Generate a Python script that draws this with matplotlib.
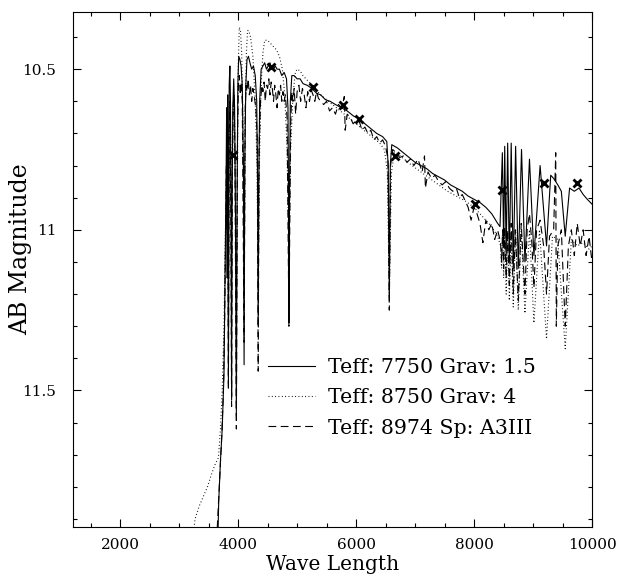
import matplotlib
matplotlib.use('Agg')
import matplotlib.pyplot as plt
from matplotlib.ticker import MultipleLocator, FuncFormatter

# Спектры: длина волны / AB звездная величина
wave_7750 = [3500, 3640, 3670, 3700, 3730, 3760, 3780, 3795, 3805, 3815, 3822, 3835, 3848, 3860,
             3870, 3880, 3889, 3898, 3910, 3925, 3940, 3955, 3970, 3982, 3995, 4010, 4030, 4050,
             4070, 4090, 4101, 4112, 4130, 4150, 4175, 4200, 4230, 4260, 4290, 4315, 4330, 4340,
             4350, 4365, 4390, 4420, 4450, 4480, 4510, 4540, 4570, 4600, 4630, 4660, 4700, 4740,
             4780, 4820, 4845, 4855, 4861, 4870, 4885, 4910, 4950, 5000, 5050, 5100, 5170, 5250,
             5330, 5400, 5480, 5560, 5650, 5750, 5850, 5950, 6050, 6150, 6250, 6350, 6450, 6520,
             6545, 6563, 6580, 6605, 6700, 6800, 6900, 7000, 7100, 7200, 7300, 7400, 7500, 7600,
             7700, 7800, 7900, 8000, 8100, 8200, 8300, 8400, 8440, 8480, 8502, 8520, 8545, 8570,
             8598, 8630, 8665, 8705, 8750, 8805, 8863, 8940, 9015, 9120, 9229, 9300, 9350, 9420,
             9480, 9546, 9620, 9700, 9780, 9850, 9920, 10000]
mag_7750 = [12.6, 12.1, 11.85, 11.72, 11.62, 11.45, 11.1, 10.85, 10.62, 11.15, 10.58, 11.48, 10.55, 10.49,
            10.6, 10.95, 11.52, 10.9, 10.62, 10.53, 10.62, 10.95, 11.58, 10.9, 10.55, 10.46, 10.47, 10.49,
            10.55, 10.8, 11.42, 10.8, 10.55, 10.47, 10.46, 10.48, 10.5, 10.49, 10.52, 10.6, 10.85, 11.3,
            10.85, 10.6, 10.5, 10.49, 10.48, 10.5, 10.49, 10.48, 10.5, 10.5, 10.49, 10.5, 10.5, 10.52,
            10.51, 10.53, 10.62, 10.9, 11.29, 10.9, 10.6, 10.52, 10.52, 10.53, 10.53, 10.545, 10.55, 10.56,
            10.575, 10.58, 10.595, 10.6, 10.61, 10.62, 10.63, 10.645, 10.655, 10.67, 10.685, 10.7, 10.71, 10.725,
            10.8, 11.21, 10.8, 10.735, 10.745, 10.76, 10.775, 10.79, 10.8, 10.81, 10.825, 10.835, 10.845, 10.86,
            10.87, 10.88, 10.895, 10.905, 10.915, 10.93, 10.95, 10.98, 10.99, 10.76, 11.05, 10.74, 11.08, 10.73,
            11.1, 10.73, 11.12, 10.74, 11.12, 10.75, 11.1, 10.78, 11.08, 10.8, 11.05, 10.83, 10.84, 10.86,
            10.88, 11.02, 10.87, 10.88, 10.87, 10.89, 10.905, 10.92]

wave_8750 = [3200, 3270, 3340, 3410, 3480, 3550, 3610, 3665, 3700, 3730, 3760, 3780, 3800, 3812,
             3820, 3835, 3850, 3865, 3880, 3889, 3900, 3920, 3940, 3955, 3970, 3985, 4000, 4020,
             4040, 4060, 4080, 4101, 4120, 4140, 4160, 4180, 4210, 4250, 4290, 4320, 4340, 4360,
             4390, 4420, 4450, 4500, 4550, 4600, 4650, 4700, 4750, 4790, 4830, 4861, 4890, 4930,
             4970, 5000, 5050, 5100, 5200, 5300, 5400, 5500, 5600, 5700, 5800, 5900, 6000, 6100,
             6200, 6300, 6400, 6480, 6530, 6563, 6600, 6650, 6750, 6850, 6950, 7100, 7250, 7400,
             7550, 7700, 7850, 8000, 8100, 8200, 8300, 8400, 8450, 8467, 8485, 8502, 8520, 8545,
             8570, 8598, 8630, 8665, 8705, 8750, 8800, 8863, 8940, 9015, 9110, 9229, 9330, 9420,
             9546, 9650, 9750, 9850, 9950, 10000]
mag_8750 = [12.0, 11.9, 11.86, 11.83, 11.8, 11.76, 11.73, 11.71, 11.62, 11.5, 11.3, 11.05, 10.85, 10.9,
            10.75, 11.3, 10.7, 10.62, 10.8, 11.25, 10.8, 10.6, 10.65, 10.9, 11.4, 10.9, 10.5, 10.37,
            10.38, 10.45, 10.65, 11.2, 10.65, 10.45, 10.38, 10.38, 10.4, 10.46, 10.6, 10.8, 11.2, 10.8,
            10.55, 10.45, 10.41, 10.41, 10.42, 10.43, 10.44, 10.46, 10.5, 10.58, 10.75, 11.1, 10.75, 10.58,
            10.51, 10.5, 10.505, 10.52, 10.54, 10.56, 10.58, 10.595, 10.61, 10.625, 10.64, 10.655, 10.67, 10.685,
            10.7, 10.715, 10.73, 10.75, 10.82, 11.2, 10.82, 10.76, 10.77, 10.785, 10.8, 10.82, 10.84, 10.86,
            10.88, 10.895, 10.91, 10.93, 10.95, 10.97, 10.99, 11.02, 11.05, 11.12, 11.0, 11.15, 11.0, 11.2,
            11.02, 11.22, 11.02, 11.24, 11.0, 11.25, 11.0, 11.26, 11.0, 11.29, 11.0, 11.34, 11.02, 11.03,
            11.37, 11.03, 11.05, 11.04, 11.06, 11.05]

wave_a3 = [3560, 3640, 3680, 3720, 3750, 3770, 3790, 3800, 3812, 3822, 3835, 3848, 3860, 3875,
           3889, 3900, 3915, 3930, 3945, 3970, 3990, 4005, 4020, 4035, 4050, 4070, 4101, 4120,
           4135, 4150, 4170, 4190, 4210, 4230, 4250, 4270, 4300, 4325, 4340, 4355, 4380, 4400,
           4420, 4440, 4460, 4480, 4500, 4520, 4540, 4560, 4580, 4600, 4620, 4640, 4660, 4680,
           4700, 4720, 4740, 4760, 4780, 4800, 4830, 4861, 4890, 4910, 4930, 4950, 4975, 5000,
           5030, 5060, 5090, 5120, 5150, 5180, 5210, 5240, 5270, 5300, 5330, 5360, 5400, 5450,
           5500, 5550, 5600, 5650, 5700, 5760, 5800, 5815, 5850, 5900, 5950, 6000, 6050, 6100,
           6150, 6200, 6250, 6300, 6350, 6400, 6450, 6500, 6540, 6563, 6585, 6620, 6680, 6740,
           6800, 6860, 6920, 6980, 7050, 7120, 7160, 7175, 7220, 7280, 7340, 7400, 7460, 7520,
           7580, 7640, 7700, 7750, 7800, 7850, 7900, 7950, 8000, 8050, 8100, 8150, 8200, 8250,
           8300, 8350, 8400, 8450, 8467, 8485, 8502, 8520, 8545, 8570, 8598, 8630, 8665, 8700,
           8750, 8800, 8863, 8900, 8940, 8980, 9015, 9060, 9120, 9180, 9229, 9280, 9350, 9385,
           9395, 9420, 9480, 9546, 9600, 9650, 9700, 9750, 9800, 9850, 9900, 9950, 10000]
mag_a3 = [12.2, 11.95, 11.8, 11.65, 11.5, 11.3, 11.0, 10.8, 11.0, 10.7, 11.5, 10.68, 10.6, 10.9,
          11.55, 10.85, 10.62, 10.58, 10.75, 11.62, 10.7, 10.55, 10.52, 10.58, 10.54, 10.6, 11.35, 10.62,
          10.55, 10.57, 10.53, 10.58, 10.55, 10.6, 10.56, 10.58, 10.62, 10.72, 11.44, 10.75, 10.6, 10.55,
          10.57, 10.54, 10.6, 10.55, 10.56, 10.53, 10.58, 10.54, 10.56, 10.6, 10.55, 10.58, 10.62, 10.56,
          10.58, 10.55, 10.6, 10.57, 10.6, 10.58, 10.65, 11.3, 10.68, 10.57, 10.6, 10.56, 10.64, 10.57,
          10.55, 10.6, 10.56, 10.58, 10.62, 10.57, 10.6, 10.565, 10.58, 10.6, 10.57, 10.59, 10.6, 10.61,
          10.6, 10.63, 10.62, 10.64, 10.61, 10.62, 10.585, 10.69, 10.64, 10.65, 10.67, 10.66, 10.66, 10.69,
          10.68, 10.7, 10.69, 10.72, 10.71, 10.73, 10.72, 10.74, 10.78, 11.25, 10.8, 10.75, 10.76, 10.775,
          10.77, 10.79, 10.78, 10.8, 10.78, 10.82, 10.77, 10.87, 10.82, 10.84, 10.83, 10.85, 10.86, 10.85,
          10.87, 10.88, 10.87, 10.9, 10.89, 10.91, 10.93, 10.97, 10.93, 10.95, 10.98, 11.04, 10.97, 11.0,
          10.98, 11.03, 11.0, 11.04, 11.1, 11.0, 11.12, 10.99, 11.15, 11.0, 11.17, 10.98, 11.2, 11.0,
          11.22, 10.98, 11.2, 11.0, 10.95, 11.04, 11.18, 11.0, 10.97, 11.05, 11.2, 11.02, 11.0, 10.76,
          11.3, 11.05, 11.0, 11.3, 11.05, 11.0, 11.08, 10.98, 11.05, 11.0, 11.08, 11.02, 11.1]

# Фотометрические точки (крестики)
phot_wave = [3913, 4552, 5264, 5784, 6055, 6660, 8016, 8474, 9192, 9746]
phot_mag = [10.766, 10.492, 10.556, 10.611, 10.654, 10.771, 10.921, 10.875, 10.854, 10.854]

labels = ['Teff: 7750 Grav: 1.5', 'Teff: 8750 Grav: 4', 'Teff: 8974 Sp: A3III']

plt.rcParams['font.family'] = 'DejaVu Serif'

fig = plt.figure(figsize=(6.17, 5.76), dpi=100)
ax = fig.add_axes([73 / 617, 1 - 527 / 576, 519 / 617, 515 / 576])

ax.plot(wave_7750, mag_7750, color='black', lw=0.8, ls='-', label=labels[0])
ax.plot(wave_8750, mag_8750, color='black', lw=0.8, ls=(0, (0.8, 2.2)), label=labels[1])
ax.plot(wave_a3, mag_a3, color='black', lw=0.8, ls=(0, (7, 4)), label=labels[2])
ax.plot(phot_wave, phot_mag, ls='none', marker='x', ms=6, mew=2, color='black')

ax.set_xlim(1200, 10000)
ax.set_ylim(11.925, 10.322)

ax.xaxis.set_major_locator(MultipleLocator(2000))
ax.xaxis.set_minor_locator(MultipleLocator(500))
ax.yaxis.set_major_locator(MultipleLocator(0.5))
ax.yaxis.set_minor_locator(MultipleLocator(0.1))
ax.yaxis.set_major_formatter(FuncFormatter(lambda v, p: '%g' % v))
ax.tick_params(which='both', direction='in', top=True, right=True, labelsize=11)
ax.tick_params(which='major', length=6, width=0.8)
ax.tick_params(which='minor', length=3, width=0.8)
ax.tick_params(axis='y', pad=12)
ax.tick_params(axis='x', pad=8)

ax.set_xlabel('Wave Length', fontsize=14.5, labelpad=2)
ax.set_ylabel('AB Magnitude', fontsize=17)
ax.yaxis.set_label_coords(-0.078, 0.54)

ax.legend(loc='upper left', bbox_to_anchor=(268 / 617, 1 - 358 / 576), bbox_transform=fig.transFigure,
          frameon=False, fontsize=14.8, handlelength=2.3, handletextpad=0.6, labelspacing=0.55,
          borderpad=0, borderaxespad=0)

fig.savefig('out.png', dpi=100)
